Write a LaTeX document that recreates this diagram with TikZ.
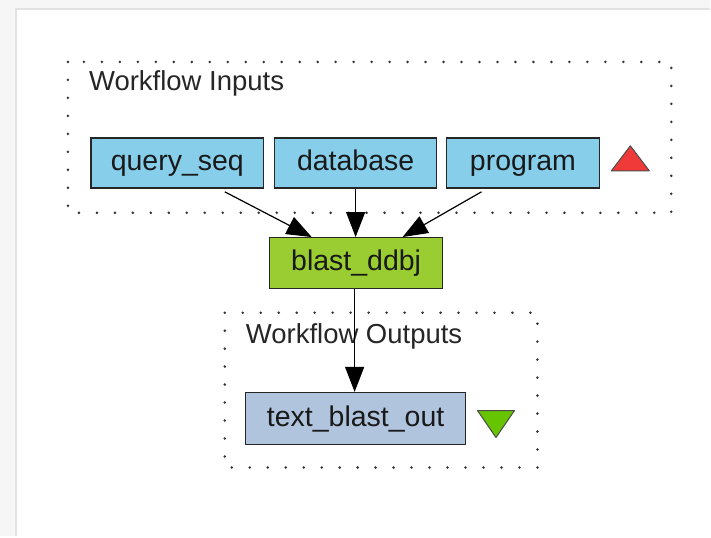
\documentclass[tikz,border=0pt]{standalone}
\usepackage{fontspec}
\setmainfont{Liberation Sans}
\usetikzlibrary{arrows.meta}
\definecolor{inblue}{HTML}{87CEEB}
\definecolor{procgreen}{HTML}{9ACD32}
\definecolor{outblue}{HTML}{B0C4DE}
\definecolor{trired}{HTML}{F03A3A}
\definecolor{trigreen}{HTML}{66C400}
\definecolor{pagegray}{HTML}{F6F6F6}
\definecolor{edgegray}{HTML}{E2E2E2}
\tikzset{
  port/.style={draw=black!85, line width=1.4pt, minimum height=50pt,
    inner sep=0pt, text height=20pt, text depth=5pt,
    font=\fontsize{28.5}{31}\selectfont, text=black!90},
  cluster/.style={draw=black!80, line width=2.8pt, line cap=round,
    dash pattern=on 0pt off 18pt},
  flow/.style={draw=black, line width=1.2pt,
    -{Triangle[length=25pt,width=19pt]}},
  label/.style={font=\fontsize{27.5}{30}\selectfont, text=black!85,
    anchor=west, inner sep=0pt},
  marker/.style={draw=black!70, line width=1pt, line join=round}
}
\begin{document}
\begin{tikzpicture}[x=1pt,y=-1pt]
  % page frame
  \fill[pagegray] (0,0) rectangle (711,537);
  \fill[white] (16,9) rectangle (711,537);
  \draw[edgegray, line width=1.5pt] (16,537) -- (16,9) -- (711,9);
  \useasboundingbox (0,0) rectangle (711,537);

  % input cluster
  \draw[cluster] (68,62) rectangle (672,213);
  \node[label] (inlabel) at (89,83) {Workflow Inputs};
  \node[port, fill=inblue, minimum width=173pt] (query) at (177.5,163) {query\_seq};
  \node[port, fill=inblue, minimum width=162pt] (database) at (356,163) {database};
  \node[port, fill=inblue, minimum width=153pt] (program) at (523.5,163) {program};
  \fill[marker, fill=trired] (612,171) -- (631,146) -- (650,171) -- cycle;

  % processor
  \node[port, fill=procgreen, minimum width=173pt, minimum height=51pt] (blast) at (356.5,263.5) {blast\_ddbj};

  % output cluster
  \draw[cluster] (225,313) rectangle (538,468);
  \node[label] (outlabel) at (246,337) {Workflow Outputs};
  \node[port, fill=outblue, minimum width=220pt, minimum height=52pt] (textout) at (356,419) {text\_blast\_out};
  \fill[marker, fill=trigreen] (478,411) -- (515,411) -- (496.5,438) -- cycle;

  % data links
  \coordinate (qs) at (225,192);
  \coordinate (ps) at (482,192);
  \draw[flow] (qs) -- (blast.north west -| 312,0);
  \draw[flow] (database.south) -- (blast.north -| database.south);
  \draw[flow] (ps) -- (blast.north east -| 403,0);
  \draw[flow] (blast.south -| 355,0) -- (textout.north -| 355,0);
\end{tikzpicture}
\end{document}
